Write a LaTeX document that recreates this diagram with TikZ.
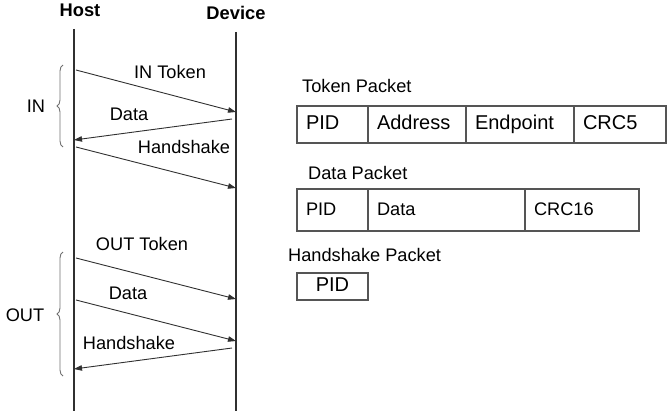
\documentclass[tikz,border=0pt]{standalone}
\usepackage{fontspec}
\setmainfont{Liberation Sans}
\usetikzlibrary{arrows.meta,decorations.pathreplacing,positioning}
\definecolor{lineclr}{HTML}{303030}
\definecolor{boxclr}{HTML}{555555}
\definecolor{braceclr}{HTML}{707070}
\begin{document}
\begin{tikzpicture}[x=1pt,y=-1pt,
  lbl/.style={font=\fontsize{18.2}{21}\selectfont, inner sep=0pt, text=black},
  hdr/.style={font=\bfseries\fontsize{18.3}{21}\selectfont, inner sep=0pt, text=black},
  life/.style={draw=lineclr, line width=1.2pt},
  msg/.style={draw=lineclr, line width=0.9pt, -{Triangle[length=8pt,width=5.5pt]}},
  grp/.style={draw=braceclr, line width=0.9pt, decorate, decoration={brace, amplitude=6pt}},
  cell/.style={draw=boxclr, line width=1.3pt, outer sep=0pt, anchor=west, inner xsep=9pt, inner ysep=0pt,
    font=\fontsize{20}{23}\selectfont, align=left, text height=14pt, text depth=4pt},
]
\useasboundingbox (0,0) rectangle (668,417);

% headers and lifelines
\node[hdr] (host) at (80,10) {Host};
\node[hdr] (dev) at (236,12.5) {Device};
\coordinate (h0) at (74,29);
\coordinate (h1) at (74,411);
\coordinate (d0) at (236,32);
\coordinate (d1) at (236,411);
\draw[life] (h0) -- (h1);
\draw[life] (d0) -- (d1);

% IN transaction
\coordinate (a1s) at (76,70);   \coordinate (a1e) at (236,112);
\coordinate (a2s) at (232,119); \coordinate (a2e) at (74,140);
\coordinate (a3s) at (76,147);  \coordinate (a3e) at (236,188);
\draw[msg] (a1s) -- (a1e);
\draw[msg] (a2s) -- (a2e);
\draw[msg] (a3s) -- (a3e);
\node[lbl] (l1) at (170,72) {IN Token};
\node[lbl] (l2) at (129,114) {Data};
\node[lbl] (l3) at (184,147) {Handshake};

% OUT transaction
\coordinate (b1s) at (76,258);  \coordinate (b1e) at (236,299);
\coordinate (b2s) at (76,300);  \coordinate (b2e) at (236,341);
\coordinate (b3s) at (232,348); \coordinate (b3e) at (74,369);
\draw[msg] (b1s) -- (b1e);
\draw[msg] (b2s) -- (b2e);
\draw[msg] (b3s) -- (b3e);
\node[lbl] (m1) at (142,244) {OUT Token};
\node[lbl] (m2) at (128,293) {Data};
\node[lbl] (m3) at (129,343) {Handshake};

% braces
\coordinate (inb) at (63,147); \coordinate (int) at (63,65);
\coordinate (outb) at (63,376); \coordinate (outt) at (63,252);
\draw[grp] (inb) -- (int);
\draw[grp] (outb) -- (outt);
\node[lbl] (inl) at (36,106) {IN};
\node[lbl] (outl) at (25,315) {OUT};

% Token packet
\node[lbl, anchor=west] (tp) at (302,86) {Token Packet};
\node[cell, minimum width=71pt, minimum height=37pt, text width=53pt] (t1) at (297,124.5) {PID};
\node[cell, minimum width=98pt, minimum height=37pt, text width=80pt] (t2) at (t1.east) {Address};
\node[cell, minimum width=108pt, minimum height=37pt, text width=90pt] (t3) at (t2.east) {Endpoint};
\node[cell, minimum width=92pt, minimum height=37pt, text width=74pt] (t4) at (t3.east) {CRC5};

% Data packet
\node[lbl, anchor=west] (dp) at (308,173) {Data Packet};
\node[cell, minimum width=71pt, minimum height=42pt, text width=53pt, font=\fontsize{18.2}{21}\selectfont] (p1) at (297,210) {PID};
\node[cell, minimum width=157pt, minimum height=42pt, text width=139pt, font=\fontsize{18.2}{21}\selectfont] (p2) at (p1.east) {Data};
\node[cell, minimum width=114pt, minimum height=42pt, text width=96pt, font=\fontsize{18.2}{21}\selectfont] (p3) at (p2.east) {CRC16};

% Handshake packet
\node[lbl, anchor=west] (hp) at (288,255) {Handshake Packet};
\node[cell, minimum width=71pt, minimum height=27pt, text width=53pt, align=center] (k1) at (297,286.5) {PID};
\end{tikzpicture}
\end{document}
